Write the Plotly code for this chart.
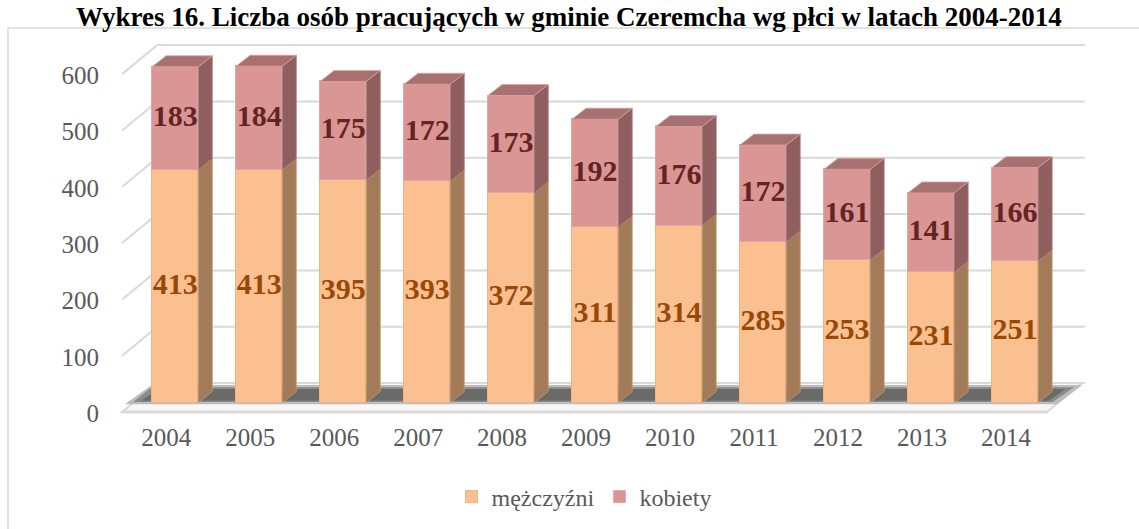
import plotly.graph_objects as go

years = ["2004", "2005", "2006", "2007", "2008", "2009", "2010", "2011", "2012", "2013", "2014"]
men = [413, 413, 395, 393, 372, 311, 314, 285, 253, 231, 251]
women = [183, 184, 175, 172, 173, 192, 176, 172, 161, 141, 166]
y_ticks = [0, 100, 200, 300, 400, 500, 600]
series_names = ["mężczyźni", "kobiety"]
title_text = "Wykres 16. Liczba osób pracujących w gminie Czeremcha wg płci w latach 2004-2014"

W, H = 1139, 529
ML, MR, MT, MB = 108, 40, 42, 110
XR = [-0.8, 11.0]
YR = [-29.3, 640]

BW = 0.55      # bar width (category units)
DX = 0.167     # depth, x
DY = 19.5      # depth, y (value units)
BACK_X0, BACK_X1, BACK_DY = -0.214, 10.83, 34.5
FRONT_X0, FRONT_DY = -0.631, -17
LABEL_DY = -19

FONT = "Liberation Serif"
GRAY = "#595959"
C_M, C_M_SIDE = "#FAC090", "#A27B59"
C_W, C_W_SIDE, C_W_TOP = "#D99694", "#8E5F5E", "#A87171"

xs = list(range(len(years)))
tot = [m + w for m, w in zip(men, women)]

fig = go.Figure()

# front faces
fig.add_trace(go.Bar(x=xs, y=men, width=BW, name=series_names[0], marker=dict(color=C_M, line=dict(color="#F3B382", width=1)), hoverinfo="skip"))
fig.add_trace(go.Bar(x=xs, y=women, width=BW, name=series_names[1], marker=dict(color=C_W, line=dict(color="#E3A5A3", width=1)), hoverinfo="skip"))

def poly_trace(polys, color, line_color):
    px, py = [], []
    for p in polys:
        for (a, b) in p + [p[0]]:
            px.append(a); py.append(b)
        px.append(None); py.append(None)
    return go.Scatter(x=px, y=py, mode="lines", fill="toself", fillcolor=color,
                      line=dict(color=line_color, width=0.8), showlegend=False, hoverinfo="skip")

m_side, w_side, w_top = [], [], []
for i, m, t in zip(xs, men, tot):
    r = i + BW / 2
    l = i - BW / 2
    m_side.append([(r, 0), (r + DX, DY), (r + DX, m + DY), (r, m)])
    w_side.append([(r, m), (r + DX, m + DY), (r + DX, t + DY), (r, t)])
    w_top.append([(l, t), (r, t), (r + DX, t + DY), (l + DX, t + DY)])
fig.add_trace(poly_trace(m_side, C_M_SIDE, "#C99A6E"))
fig.add_trace(poly_trace(w_side, C_W_SIDE, "#B07C7A"))
fig.add_trace(poly_trace(w_top, C_W_TOP, "#E0A3A1"))

# data labels
fig.add_trace(go.Scatter(x=xs, y=[m / 2 for m in men], mode="text", text=[str(v) for v in men],
                         textfont=dict(family=FONT, size=30, color="#984807", weight="bold"),
                         showlegend=False, hoverinfo="skip"))
fig.add_trace(go.Scatter(x=xs, y=[m + w / 2 for m, w in zip(men, women)], mode="text", text=[str(v) for v in women],
                         textfont=dict(family=FONT, size=30, color="#632523", weight="bold"),
                         showlegend=False, hoverinfo="skip"))

shapes = []
# floor
shapes.append(dict(type="path", xref="x", yref="y", layer="below",
                   path=f"M {FRONT_X0} {FRONT_DY} L 10.38 {FRONT_DY} L {BACK_X1 - 0.03} {BACK_DY} L {BACK_X0} {BACK_DY} Z",
                   fillcolor="#F7F7F7", line=dict(color="#D9D9D9", width=2)))
# shadow (soft + dark)
shapes.append(dict(type="path", xref="x", yref="y", layer="below",
                   path="M -0.60 -3 L 10.50 -3 L 10.80 31 L -0.28 31 Z",
                   fillcolor="#BDBDBD", line=dict(width=0)))
shapes.append(dict(type="path", xref="x", yref="y", layer="below",
                   path="M -0.50 1 L 10.45 1 L 10.70 27 L -0.28 27 Z",
                   fillcolor="#8A8A8A", line=dict(width=0)))
shapes.append(dict(type="path", xref="x", yref="y", layer="below",
                   path="M -0.40 3 L 10.40 3 L 10.60 24 L -0.20 24 Z",
                   fillcolor="#6A6A6A", line=dict(width=0)))
# back wall gridlines
for v in y_ticks:
    if v > 0:
        shapes.append(dict(type="line", xref="x", yref="y", layer="below",
                           x0=FRONT_X0, y0=v + FRONT_DY, x1=BACK_X0, y1=v + BACK_DY,
                           line=dict(color="#D9D9D9", width=2)))
    shapes.append(dict(type="line", xref="x", yref="y", layer="below",
                       x0=BACK_X0, y0=v + BACK_DY, x1=BACK_X1, y1=v + BACK_DY,
                       line=dict(color="#D9D9D9", width=2)))
# front floor edge
shapes.append(dict(type="line", xref="x", yref="y", layer="below",
                   x0=FRONT_X0, y0=FRONT_DY, x1=10.38, y1=FRONT_DY, line=dict(color="#D9D9D9", width=3)))

# chart border
pw, ph = W - ML - MR, H - MT - MB
def pxx(p): return (p - ML) / pw
def pxy(p): return (H - MB - p) / ph
shapes.append(dict(type="rect", xref="paper", yref="paper", layer="below",
                   x0=pxx(8), y0=pxy(560), x1=pxx(1160), y1=pxy(28),
                   line=dict(color="#D9D9D9", width=1.5), fillcolor="rgba(0,0,0,0)"))

fig.update_layout(
    width=W, height=H, margin=dict(l=ML, r=MR, t=MT, b=MB, autoexpand=False),
    paper_bgcolor="white", plot_bgcolor="white",
    barmode="stack", bargap=0,
    shapes=shapes,
    showlegend=True,
    legend=dict(orientation="h", x=pxx(584), xanchor="center", y=pxy(497), yanchor="middle",
                font=dict(family=FONT, size=24, color=GRAY), itemwidth=30, traceorder="normal"),
    xaxis=dict(range=XR, tickvals=xs, ticktext=years, showgrid=False, zeroline=False, showline=False,
               ticks="", ticklabelshift=-9, ticklabelstandoff=1,
               tickfont=dict(family=FONT, size=25, color=GRAY), fixedrange=True),
    yaxis=dict(range=YR, tickvals=[v + LABEL_DY for v in y_ticks], ticktext=[str(v) for v in y_ticks],
               showgrid=False, zeroline=False, showline=False, ticks="", ticklabelstandoff=8,
               tickfont=dict(family=FONT, size=25, color=GRAY), fixedrange=True),
    annotations=[dict(text=f"<b>{title_text}</b>", xref="paper", yref="paper",
                      x=pxx(569), xanchor="center", y=pxy(0), yanchor="top",
                      showarrow=False, font=dict(family=FONT, size=27, color="black"))],
)

fig.write_html("out.html", config={"displayModeBar": False},
               post_script="document.body.style.margin='0px';")
